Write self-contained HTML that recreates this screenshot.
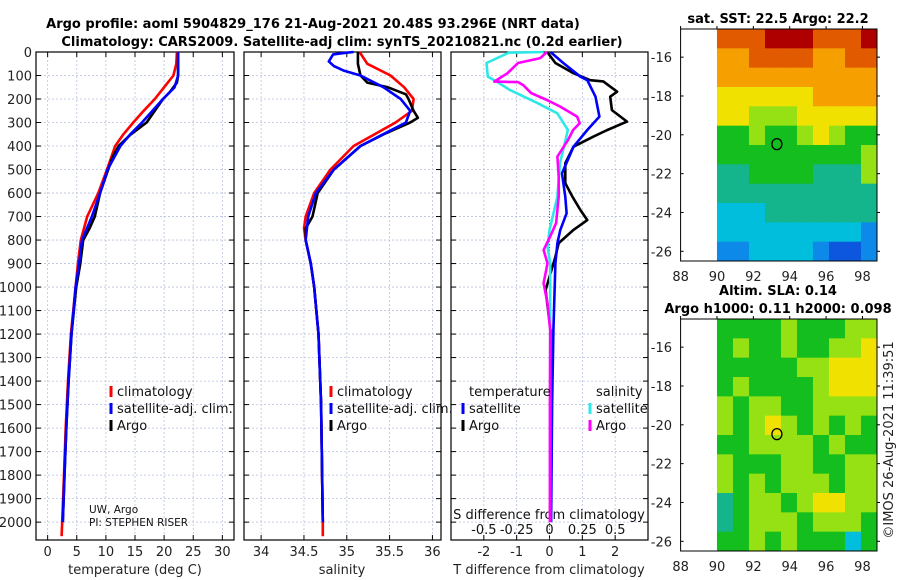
<!DOCTYPE html>
<html><head><meta charset="utf-8"><style>
html,body{margin:0;padding:0;background:#fff}
svg{display:block;font-family:"DejaVu Sans","Liberation Sans",sans-serif}
</style></head><body>
<svg id="chart" width="900" height="580" viewBox="0 0 900 580">
<text x="313" y="28" text-anchor="middle" font-size="13" font-weight="bold">Argo profile: aoml 5904829_176 21-Aug-2021 20.48S 93.296E (NRT data)</text>
<text x="342" y="46" text-anchor="middle" font-size="13" font-weight="bold">Climatology: CARS2009. Satellite-adj clim: synTS_20210821.nc (0.2d earlier)</text>
<text x="778" y="23" text-anchor="middle" font-size="13" font-weight="bold">sat. SST: 22.5 Argo: 22.2</text>
<text x="778" y="295" text-anchor="middle" font-size="13" font-weight="bold">Altim. SLA: 0.14</text>
<text x="778" y="313" text-anchor="middle" font-size="13" font-weight="bold">Argo h1000: 0.11 h2000: 0.098</text>
<text transform="translate(893,440) rotate(-90)" text-anchor="middle" font-size="13" fill="#222">©IMOS 26-Aug-2021 11:39:51</text>
<g id="g"></g>
</svg>
<script>
// ---- data ----
const depthTicks=[0,100,200,300,400,500,600,700,800,900,1000,1100,1200,1300,1400,1500,1600,1700,1800,1900,2000];
const tTicks=[0,5,10,15,20,25,30];
const sTicks=[34,34.5,35,35.5,36];
const sTickLabels=["34","34.5","35","35.5","36"];
const dTicks=[-2,-1,0,1,2];
const dsTickLabels=["-0.5","-0.25","0","0.25","0.5"];
const dsTicks=[-0.5,-0.25,0,0.25,0.5];

const tArgoDepth=[0,50,100,130,150,170,200,250,300,350,400,450,500,600,700,750,800,900,1000,1200,1400,1600,1800,2000];
const tArgo=[22.4,22.4,22.4,22.2,21.6,21,19.8,18.4,17.0,14.3,12.2,11.1,10.4,9.0,8.1,7.2,6.1,5.6,4.9,4.1,3.6,3.2,2.9,2.6];
const tClimDepth=[0,50,100,150,200,250,300,350,400,500,600,700,800,900,1000,1200,1400,1600,1800,2000,2060];
const tClim=[22.2,22.1,21.6,20.0,18.4,16.5,14.7,13.0,11.6,10.2,8.7,6.8,5.7,5.2,4.8,4.0,3.5,3.1,2.8,2.5,2.4];
const tSatDepth=[0,50,100,150,200,250,300,350,400,500,600,700,800,900,1000,1200,1400,1600,1800,2000];
const tSat=[22.4,22.4,22.4,21.8,19.8,18.0,16.2,14.2,12.5,10.3,9.0,7.6,5.9,5.4,4.8,4.1,3.6,3.2,2.9,2.6];

const sArgoDepth=[0,50,100,130,150,180,200,250,280,300,350,400,500,600,700,750,800,900,1000,1200,1500,2000];
const sArgo=[35.13,35.13,35.16,35.24,35.48,35.69,35.72,35.78,35.83,35.74,35.43,35.16,34.85,34.66,34.6,34.52,34.52,34.58,34.62,34.67,34.70,34.72];
const sClimDepth=[0,50,100,150,200,250,300,400,500,600,700,750,800,900,1000,1200,1500,2000,2060];
const sClim=[35.15,35.24,35.51,35.67,35.78,35.76,35.57,35.08,34.81,34.62,34.52,34.5,34.52,34.58,34.62,34.67,34.70,34.72,34.72];
const sSatDepth=[0,5,10,40,60,80,100,150,200,250,300,400,500,600,700,800,900,1000,1200,1500,2000];
const sSat=[35.08,34.95,34.84,34.79,34.85,34.97,35.16,35.43,35.63,35.74,35.69,35.16,34.85,34.64,34.55,34.52,34.58,34.62,34.67,34.70,34.72];

const dTArgoDepth=[0,47,90,120,125,169,190,247,296,332,360,403,473,558,616,672,715,757,813,871,913,1013,1183,1500,2000];
const dTArgo=[-0.07,0.18,0.73,1.24,1.64,2.06,1.85,1.9,2.36,1.76,1.34,0.73,0.48,0.48,0.7,0.94,1.15,0.73,0.28,0.18,0.09,-0.12,0.03,0.03,0.02];
const dTSatDepth=[0,47,105,120,190,275,332,403,516,616,686,757,813,899,1183,1500,2000];
const dTSat=[0.03,0.42,0.94,1.15,1.4,1.52,1.15,0.73,0.38,0.48,0.52,0.33,0.24,0.18,0.12,0.08,0.05];
const dSSatDepth=[0,3,47,105,120,162,218,261,332,403,473,616,757,828,899,1040,1500,2000];
const dSSat=[-0.045,-0.31,-0.48,-0.47,-0.42,-0.3,-0.09,0.06,0.14,0.11,0.08,0.06,0,-0.015,0.005,0.005,0.005,0.005];
const dSArgoDepth=[0,26,47,90,126,128,141,175,204,232,275,303,332,375,445,530,616,728,785,842,899,984,1069,1183,1500,2000];
const dSArgo=[-0.02,-0.07,-0.24,-0.32,-0.42,-0.24,-0.2,-0.14,-0.02,0.08,0.21,0.23,0.18,0.14,0.06,0.07,0.07,0.05,0.005,-0.045,-0.015,-0.045,-0.015,0.005,0.003,0.003];

const sstGrid=[
[9,9,9,10,10,10,9,9,9,10],[8,8,9,9,9,9,8,8,9,9],[8,8,8,8,8,8,8,8,8,8],[7,7,7,7,7,7,8,8,8,8],
[7,7,6,6,6,7,7,7,7,7],[5,5,6,5,5,6,7,6,5,5],[5,5,5,5,5,5,5,5,5,6],[4,4,5,5,5,5,4,4,4,6],
[4,4,4,4,4,4,4,4,4,4],[3,3,3,4,4,4,4,4,4,4],[3,3,3,3,3,3,3,3,3,2],[2,2,3,3,3,3,2,1,1,2]];
const slaGrid=[
[5,5,5,5,6,5,5,5,6,6],[5,6,5,5,6,5,5,6,6,7],[5,5,5,5,5,6,6,7,7,7],[5,6,5,5,5,5,6,7,7,7],
[6,5,6,6,5,5,6,6,6,6],[6,5,6,7,6,5,6,5,6,5],[5,5,6,6,6,6,5,6,5,5],[6,5,5,5,6,6,5,5,6,6],
[6,5,6,5,6,6,6,5,6,6],[4,5,6,6,5,6,7,7,6,6],[4,5,6,6,6,5,6,6,6,5],[5,5,6,5,6,5,5,5,3,5]];
const latTicks=[-16,-18,-20,-22,-24,-26];
const lonTicks=[88,90,92,94,96,98];
const argoLon=93.296, argoLat=-20.48;

// ---- layout ----
const NS="http://www.w3.org/2000/svg";
const G=document.getElementById('g');
function el(t,a,p){const e=document.createElementNS(NS,t);for(const k in a)e.setAttribute(k,a[k]);(p||G).appendChild(e);return e;}
const top0=52,bot0=540,dMax=2076;
const yD=d=>top0+d*(bot0-top0)/dMax;
const panels=[
 {x0:36,x1:234,lo:-2,hi:32,name:'temperature'},
 {x0:244,x1:441,lo:33.8,hi:36.1,name:'salinity'},
 {x0:451,x1:648,lo:-3,hi:3,name:'difference'}];
const xF=p=>v=>p.x0+(v-p.lo)*(p.x1-p.x0)/(p.hi-p.lo);
const xT=xF(panels[0]),xS=xF(panels[1]),xDT=xF(panels[2]),xDS=v=>xDT(v*4);

panels.forEach((p,i)=>{
 const x=xF(p);
 const ticks=i==0?tTicks:i==1?sTicks:dTicks;
 depthTicks.forEach(d=>{ if(d>0){
  const l=el('line',{x1:p.x0,x2:p.x1,y1:yD(d),y2:yD(d),stroke:'#b8c0dd','stroke-width':0.8,'stroke-dasharray':'2,2'});
  
  }
  el('line',{x1:p.x0,x2:p.x0+5,y1:yD(d),y2:yD(d),stroke:'#000'});
  el('line',{x1:p.x1-5,x2:p.x1,y1:yD(d),y2:yD(d),stroke:'#000'});
 });
 ticks.forEach(v=>{
  const l=el('line',{x1:x(v),x2:x(v),y1:top0,y2:bot0,stroke:'#b8c0dd','stroke-width':0.8,'stroke-dasharray':'2,2'});
  
  
  el('line',{x1:x(v),x2:x(v),y1:bot0-5,y2:bot0,stroke:'#000'});
  el('line',{x1:x(v),x2:x(v),y1:top0,y2:top0+5,stroke:'#000'});
 });
 const fr=el('rect',{x:p.x0,y:top0,width:p.x1-p.x0,height:bot0-top0,fill:'none',stroke:'#000','stroke-width':1.2});
 
 
});
depthTicks.forEach(d=>{
 const t=el('text',{x:32,y:yD(d)+5,'text-anchor':'end','font-size':13,fill:'#222'});
 t.textContent=d;
 
 
});
function xl(arr,labels,fx){arr.forEach((v,i)=>{const t=el('text',{x:fx(v),y:556,'text-anchor':'middle','font-size':13,fill:'#222'});t.textContent=labels?labels[i]:v;
 
 });}
xl(tTicks,null,xT);xl(sTicks,sTickLabels,xS);xl(dTicks,null,xDT);
dsTicks.forEach((v,i)=>{const t=el('text',{x:xDS(v),y:534,'text-anchor':'middle','font-size':13,fill:'#111'});t.textContent=dsTickLabels[i];
 
 });
[['temperature (deg C)',135,'temperature-axis-title'],['salinity',342,'salinity-axis-title'],['T difference from climatology',549,'t-diff-axis-title']].forEach(a=>{
 const t=el('text',{x:a[1],y:574,'text-anchor':'middle','font-size':13,fill:'#222'});t.textContent=a[0];
 
 });
{const t=el('text',{x:549,y:519,'text-anchor':'middle','font-size':13,fill:'#111'});t.textContent='S difference from climatology';
 
 }
[['UW, Argo',513],['PI: STEPHEN RISER',526]].forEach(a=>{const t=el('text',{x:89,y:a[1],'font-size':10.5,fill:'#111'});t.textContent=a[0];
 
 });
el('line',{x1:xDT(0),x2:xDT(0),y1:top0,y2:bot0,stroke:'#556b2f','stroke-width':1,'stroke-dasharray':'1,2'});

function line(ds,vs,fx,col,name,w){
 const pts=ds.map((d,i)=>fx(vs[i]).toFixed(1)+','+yD(d).toFixed(1)).join(' ');
 const l=el('polyline',{points:pts,fill:'none',stroke:col,'stroke-width':w||2.6,'stroke-linejoin':'round'});
 
 
}
line(tClimDepth,tClim,xT,'#f00','temp-climatology-line');
line(tArgoDepth,tArgo,xT,'#000','temp-argo-line');
line(tSatDepth,tSat,xT,'#00f','temp-satellite-line');
line(sClimDepth,sClim,xS,'#f00','sal-climatology-line');
line(sArgoDepth,sArgo,xS,'#000','sal-argo-line');
line(sSatDepth,sSat,xS,'#00f','sal-satellite-line');
line(dTArgoDepth,dTArgo,xDT,'#000','tdiff-argo-line');
line(dTSatDepth,dTSat,xDT,'#00f','tdiff-satellite-line');
line(dSSatDepth,dSSat,xDS,'#2ee8e8','sdiff-satellite-line');
line(dSArgoDepth,dSArgo,xDS,'#f0f','sdiff-argo-line');

function legend(x,y,col,txt){
 const m=el('rect',{x:x-1.5,y:y-10,width:3,height:11,fill:col});
 
 
 const t=el('text',{x:x+6,y:y,'font-size':13,fill:'#111'});t.textContent=txt;
 
 
}
[[111,'#f00','climatology'],[111,'#00f','satellite-adj. clim.'],[111,'#000','Argo']].forEach((a,i)=>legend(a[0],396+i*17,a[1],a[2]));
[[331,'#f00','climatology'],[331,'#00f','satellite-adj. clim.'],[331,'#000','Argo']].forEach((a,i)=>legend(a[0],396+i*17,a[1],a[2]));
{const t=el('text',{x:469,y:396,'font-size':13,fill:'#111'});t.textContent='temperature';
 
 
 const s=el('text',{x:596,y:396,'font-size':13,fill:'#111'});s.textContent='salinity';
 
 }
legend(463,413,'#00f','satellite');legend(463,430,'#000','Argo');
legend(590,413,'#2ee8e8','satellite');legend(590,430,'#f0f','Argo');

// ---- maps ----
const stops=[[0,[0,40,190]],[0.15,[20,110,240]],[0.3,[0,190,220]],[0.4,[20,180,140]],[0.5,[20,190,30]],[0.6,[150,225,20]],[0.7,[240,225,0]],[0.8,[245,160,0]],[0.9,[225,90,0]],[1,[175,0,0]]];
function cmap(v){for(let i=1;i<stops.length;i++){if(v<=stops[i][0]){const a=stops[i-1],b=stops[i],f=(v-a[0])/(b[0]-a[0]);return 'rgb('+a[1].map((c,k)=>Math.round(c+f*(b[1][k]-c))).join(',')+')';}}return 'rgb(175,0,0)';}
const mx0=680.6,mx1=877,lonLo=88,lonHi=98.8;
const xLon=v=>mx0+(v-lonLo)*(mx1-mx0)/(lonHi-lonLo);
function map(grid,ty,by,name){
 const latTop=-14.55,latBot=-26.5;
 const yLat=v=>ty+(v-latTop)*(by-ty)/(latBot-latTop);
 const rows=grid.length,cols=grid[0].length,gx0=xLon(90),cw=(mx1-gx0)/cols,ch=(by-ty)/rows;
 grid.forEach((r,ri)=>r.forEach((v,ci)=>{
  const c=el('rect',{x:gx0+ci*cw,y:ty+ri*ch,width:cw+0.5,height:ch+0.5,fill:cmap(v/10)});
  
  
 }));
 const f=el('rect',{x:mx0,y:ty,width:mx1-mx0,height:by-ty,fill:'none',stroke:'#000','stroke-width':1});
 
 
 latTicks.forEach(v=>{
  el('line',{x1:mx0,x2:mx0+3,y1:yLat(v),y2:yLat(v),stroke:'#000'});
  el('line',{x1:mx1,x2:mx1+3,y1:yLat(v),y2:yLat(v),stroke:'#000'});
  const t=el('text',{x:672,y:yLat(v)+5,'text-anchor':'end','font-size':13,fill:'#222'});t.textContent=v;
  
  
 });
 lonTicks.forEach(v=>{
  el('line',{x1:xLon(v),x2:xLon(v),y1:ty-3,y2:ty,stroke:'#000'});
  const t=el('text',{x:xLon(v),y:by+20,'text-anchor':'middle','font-size':13,fill:'#222'});t.textContent=v;
  
  
 });
 const c=el('ellipse',{cx:xLon(argoLon),cy:yLat(argoLat),rx:5,ry:5.5,fill:'none',stroke:'#000','stroke-width':1.3});
 
 
}
map(sstGrid,29,261,'sst-map');
map(slaGrid,319,551,'sla-map');
</script>
</body></html>
